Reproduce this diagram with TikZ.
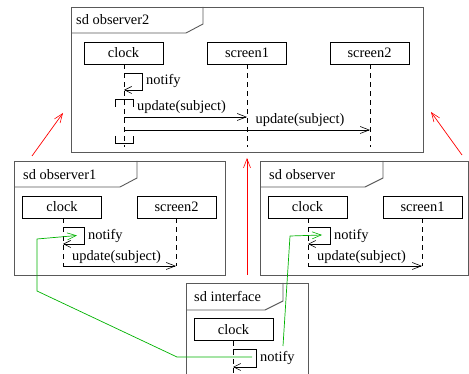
\documentclass[tikz,border=0pt]{standalone}
\usepackage{fontspec}
\setmainfont{Liberation Serif}
\usetikzlibrary{arrows.meta}
\begin{document}
\begin{tikzpicture}[x=1pt,y=-1pt,
  every node/.style={font=\fontsize{14.4}{16}\selectfont, inner sep=0pt},
  frameline/.style={draw=black!65, line width=0.9pt},
  head/.style={draw, line width=0.7pt, minimum width=79pt, minimum height=22pt},
  life/.style={line width=0.6pt, dash pattern=on 5pt off 4pt},
  msg/.style={line width=0.7pt, -{Straight Barb[length=9pt,width=7pt,line width=0.6pt]}},
  loopmsg/.style={line width=0.7pt, -{Straight Barb[length=7pt,width=7pt,line width=0.6pt]}},
  lbl/.style={anchor=west},
  redarr/.style={red, line width=0.7pt, -{Straight Barb[length=9pt,width=7pt,line width=0.6pt]}},
  greenarr/.style={green!70!black, line width=0.7pt, -{Straight Barb[length=9pt,width=7pt,line width=0.6pt]}},
  greenline/.style={green!70!black, line width=0.7pt},
  bracket/.style={line width=0.7pt}
]
\useasboundingbox (0,0) rectangle (469,374);

% ---------- frame observer2 ----------
\draw[frameline] (71,7) rectangle (423,152);
\draw[frameline] (203,7) -- (203,24) -- (186,33) -- (71,33);
\node[lbl] (t2) at (76,20) {sd observer2};
\node[head] (c2) at (123.5,53) {clock};
\node[head] (s12) at (247,53) {screen1};
\node[head] (s22) at (369.5,53) {screen2};
\coordinate (c2e) at (124,147);
\coordinate (s12e) at (247,147);
\coordinate (s22e) at (370,147);
\draw[life] (c2.south -| c2e) -- (c2e);
\draw[life] (s12.south) -- (s12e);
\draw[life] (s22.south -| s22e) -- (s22e);
% notify loop
\coordinate (n2a) at (124,73);
\coordinate (n2b) at (142,73);
\coordinate (n2c) at (142,90);
\coordinate (n2d) at (124,90);
\draw[loopmsg] (n2a) -- (n2b) -- (n2c) -- (n2d);
\node[lbl] (n2l) at (146,81) {notify};
% activation brackets
\draw[bracket] (115,107) -- (115,99) -- (133,99) -- (133,107);
\draw[bracket] (115,136) -- (115,143) -- (133,143) -- (133,136);
% updates
\coordinate (u2a) at (124,117);
\coordinate (u2b) at (247,117);
\draw[msg] (u2a) -- (u2b);
\node (u2l) at (181.5,107.5) {update(subject)};
\coordinate (u3a) at (124,130);
\coordinate (u3b) at (370,130);
\draw[msg] (u3a) -- (u3b);
\node (u3l) at (300,120.5) {update(subject)};

% ---------- frame observer1 ----------
\draw[frameline] (14,161) rectangle (225,275);
\draw[frameline] (137,161) -- (137,178) -- (120,187) -- (14,187);
\node[lbl] (t1) at (23,174.5) {sd observer1};
\node[head] (c1) at (62,207) {clock};
\node[head] (s21) at (176.5,207) {screen2};
\coordinate (c1e) at (63,266);
\coordinate (s21e) at (176,266);
\draw[life] (c1.south -| c1e) -- (c1e);
\draw[life] (s21.south -| s21e) -- (s21e);
\coordinate (n1a) at (63,227);
\coordinate (n1b) at (84,227);
\coordinate (n1c) at (84,244);
\coordinate (n1d) at (63,244);
\draw[loopmsg] (n1a) -- (n1b) -- (n1c) -- (n1d);
\node[lbl] (n1l) at (88,235.5) {notify};
\draw[msg] (c1e) -- (s21e);
\node (u1l) at (116.5,257.5) {update(subject)};

% ---------- frame observer ----------
\draw[frameline] (260,161) rectangle (468,275);
\draw[frameline] (383,161) -- (383,178) -- (365,187) -- (260,187);
\node[lbl] (t0) at (269,174.5) {sd observer};
\node[head] (c0) at (307.5,207) {clock};
\node[head] (s10) at (422.5,207) {screen1};
\coordinate (c0e) at (308,266);
\coordinate (s10e) at (422,266);
\draw[life] (c0.south -| c0e) -- (c0e);
\draw[life] (s10.south -| s10e) -- (s10e);
\coordinate (n0a) at (308,227);
\coordinate (n0b) at (330,227);
\coordinate (n0c) at (330,244);
\coordinate (n0d) at (308,244);
\draw[loopmsg] (n0a) -- (n0b) -- (n0c) -- (n0d);
\node[lbl] (n0l) at (334,235.5) {notify};
\draw[msg] (c0e) -- (s10e);
\node (u0l) at (361.5,257.5) {update(subject)};

% ---------- frame interface ----------
\draw[frameline] (186,283) -- (308,283) -- (308,380) -- (186,380) -- cycle;
\draw[frameline] (283,283) -- (283,301) -- (265,310) -- (186,310);
\node[lbl] (ti) at (194,296.5) {sd interface};
\node[head] (ci) at (233.5,329.5) {clock};
\coordinate (cie) at (233,376);
\draw[life] (ci.south -| cie) -- (cie);
\coordinate (nia) at (233,349);
\coordinate (nib) at (256,349);
\coordinate (nic) at (256,367);
\coordinate (nid) at (233,367);
\draw[loopmsg] (nia) -- (nib) -- (nic) -- (nid);
\node[lbl] (nil) at (260,357.5) {notify};

% ---------- red arrows ----------
\coordinate (r1a) at (32,156);
\coordinate (r1b) at (63,113);
\draw[redarr] (r1a) -- (r1b);
\coordinate (r2a) at (462,155);
\coordinate (r2b) at (431,112);
\draw[redarr] (r2a) -- (r2b);
\coordinate (r3a) at (247,275);
\coordinate (r3b) at (247,158);
\draw[redarr] (r3a) -- (r3b);

% ---------- green arrows ----------
\coordinate (g1a) at (252,357);
\coordinate (g1b) at (177,357);
\coordinate (g1c) at (37,291);
\coordinate (g1d) at (37,239);
\coordinate (g1e) at (77,235.5);
\draw[greenline] (g1a) -- (g1b) -- (g1c) -- (g1d);
\draw[greenarr] (g1d) -- (g1e);
\coordinate (g2a) at (283,346);
\coordinate (g2b) at (290,236);
\coordinate (g2c) at (322,235);
\draw[greenline] (g2a) -- (g2b);
\draw[greenarr] (g2b) -- (g2c);
\end{tikzpicture}
\end{document}
